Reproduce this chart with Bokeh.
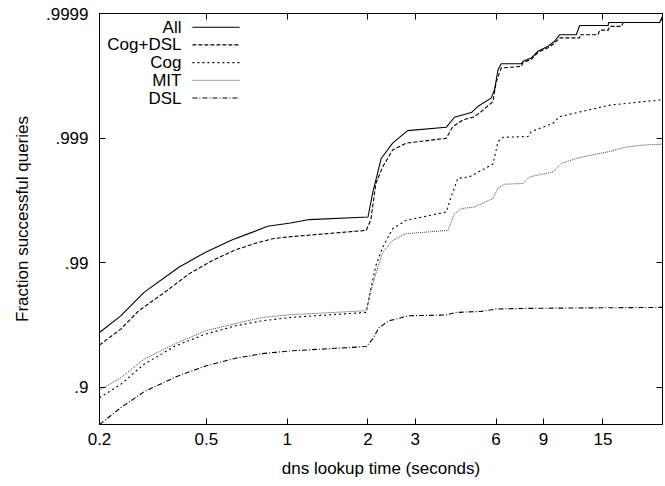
from bokeh.plotting import figure
from bokeh.models import Range1d, FixedTicker, CustomJSTickFormatter, LogAxis, Label
from bokeh.embed import file_html
from bokeh.resources import INLINE

# ---- data: x = dns lookup time (s), y = fraction successful queries ----
all_x = [0.2, 0.240, 0.293, 0.395, 0.497, 0.625, 0.743, 0.845, 1.03, 1.21,
         2.0, 2.08, 2.24, 2.47, 2.81, 3.91, 4.20, 4.85, 5.13, 5.36,
         5.75, 5.92, 6.10, 6.27, 7.45, 7.56, 8.11, 8.59, 9.37, 9.91,
         10.35, 11.94, 12.12, 12.29, 15.69, 15.75, 24.4, 25.0]
all_y = [0.9635, 0.9732, 0.98264, 0.98909, 0.99174, 0.99344, 0.99430, 0.99488, 0.99518, 0.99548,
         0.99569, 0.99721, 0.99854, 0.99890, 0.999127, 0.999180, 0.999319, 0.999375, 0.999441, 0.999475,
         0.999522, 0.999590, 0.999717, 0.999747, 0.999747, 0.999758, 0.999772, 0.999799, 0.999817, 0.999833,
         0.999852, 0.999852, 0.999865, 0.999875, 0.999875, 0.999882, 0.999882, 0.999894]

cogdsl_x = [0.2, 0.240, 0.280, 0.343, 0.431, 0.527, 0.643, 0.764, 0.882, 1.03,
            1.97, 2.05, 2.14, 2.27, 2.47, 2.77, 3.91, 4.14, 4.51, 4.92,
            5.20, 5.84, 6.01, 6.27, 7.45, 7.56, 8.11, 8.59, 9.37, 9.91,
            10.35, 12.29, 12.29, 14.39, 14.59, 15.69, 15.91, 17.58, 17.84, 24.4, 25.0]
cogdsl_y = [0.9539, 0.96575, 0.97561, 0.98212, 0.98766, 0.990364, 0.99210, 0.99301, 0.99356, 0.99380,
            0.99448, 0.99548, 0.99768, 0.99830, 0.99875, 0.99890, 0.998994, 0.999189, 0.999284, 0.999319,
            0.999368, 0.999490, 0.999648, 0.999726, 0.999734, 0.999752, 0.999767, 0.999794, 0.999812, 0.999827,
            0.999843, 0.999843, 0.999852, 0.999852, 0.999864, 0.999864, 0.999873, 0.999873, 0.999882, 0.999882,
            0.999894]

cog_x = [0.2, 0.240, 0.293, 0.384, 0.497, 0.643, 0.809, 1.03, 1.97, 2.05,
         2.14, 2.27, 2.47, 2.77, 3.91, 4.08, 4.32, 4.78, 5.84, 6.10,
         6.36, 7.89, 8.11, 9.78, 10.35, 12.47, 15.69, 21.2, 25.0]
cog_y = [0.8780, 0.90489, 0.93440, 0.95330, 0.96242, 0.96778, 0.97065, 0.97239, 0.97483, 0.98370,
         0.98943, 0.99248, 0.99465, 0.99541, 0.99607, 0.99703, 0.99789, 0.99795, 0.99838, 0.998929,
         0.999013, 0.999028, 0.999110, 0.999239, 0.999327, 0.999386, 0.999453, 0.999490, 0.999506]

mit_x = [0.2, 0.240, 0.293, 0.384, 0.497, 0.643, 0.809, 1.03, 1.97, 2.05,
         2.14, 2.27, 2.47, 2.77, 3.97, 4.20, 4.45, 4.99, 5.84, 6.10,
         6.45, 7.56, 8.00, 9.78, 10.50, 11.94, 13.59, 15.69, 18.35, 21.2, 25.0]
mit_y = [0.8937, 0.91586, 0.94023, 0.95525, 0.96465, 0.96913, 0.97239, 0.97374, 0.97561, 0.98318,
         0.98773, 0.99174, 0.99335, 0.99413, 0.99448, 0.99595, 0.99631, 0.99642, 0.99694, 0.99747,
         0.99765, 0.99768, 0.99795, 0.99813, 0.99840, 0.99854, 0.99863, 0.99871, 0.99882, 0.99886,
         0.99888]

dsl_x = [0.2, 0.240, 0.293, 0.384, 0.497, 0.643, 0.809, 1.03, 1.97, 2.08,
         2.20, 2.40, 2.85, 3.91, 4.26, 5.28, 6.01, 7.89, 11.94, 25.0]
dsl_y = [0.8001, 0.85311, 0.89089, 0.91695, 0.93228, 0.94132, 0.94611, 0.94875, 0.95268, 0.95876,
         0.96676, 0.97065, 0.97324, 0.97359, 0.97483, 0.97530, 0.97638, 0.97664, 0.97682, 0.97707]

series_names = ["All", "Cog+DSL", "Cog", "MIT", "DSL"]

x_ticks = [0.2, 0.5, 1, 2, 3, 6, 9, 15]
x_tick_labels = ["0.2", "0.5", "1", "2", "3", "6", "9", "15"]
y_ticks = [0.9, 0.99, 0.999, 0.9999]
y_tick_labels = [".9", ".99", ".999", ".9999"]

X_MIN, X_MAX = 0.2, 25.0
Y_MIN, Y_MAX = 0.8, 0.9999

FONT = "Liberation Sans"
FS = "17px"

# y axis: log of failure fraction (1 - success), flipped
def fail(v):
    return [1.0 - t for t in v]

y_tick_pos = fail(y_ticks)

p = figure(frame_width=563, frame_height=411,
           x_axis_type="log", y_axis_type="log",
           x_range=Range1d(X_MIN, X_MAX),
           y_range=Range1d(1.0 - Y_MIN, 1.0 - Y_MAX),
           output_backend="svg", toolbar_location=None,
           min_border_left=99, min_border_top=13, min_border_right=3, min_border_bottom=58)

p.grid.visible = False
p.outline_line_color = "black"
p.outline_line_width = 1
p.background_fill_color = "white"
p.border_fill_color = "white"

fmt_code = """
const i = tvals.findIndex(t => Math.abs(Math.log(t) - Math.log(tick)) < 1e-6);
return i >= 0 ? tlabels[i] : "";
"""

xa = p.xaxis[0]
xa.ticker = FixedTicker(ticks=x_ticks)
xa.formatter = CustomJSTickFormatter(args=dict(tvals=x_ticks, tlabels=x_tick_labels), code=fmt_code)
xa.axis_label = "dns lookup time (seconds)"

ya = p.yaxis[0]
ya.ticker = FixedTicker(ticks=y_tick_pos)
ya.formatter = CustomJSTickFormatter(args=dict(tvals=y_tick_pos, tlabels=y_tick_labels), code=fmt_code)
ya.axis_label = "Fraction successful queries"

for ax in (xa, ya):
    ax.major_tick_in = 6
    ax.major_tick_out = 0
    ax.minor_tick_line_color = None
    ax.major_label_text_font = FONT
    ax.major_label_text_font_size = FS
    ax.major_label_text_color = "black"
    ax.axis_label_text_font = FONT
    ax.axis_label_text_font_size = FS
    ax.axis_label_text_font_style = "normal"
    ax.axis_label_text_color = "black"
    ax.axis_line_color = "black"
    ax.major_tick_line_color = "black"

xa.major_label_standoff = 8
xa.axis_label_standoff = 11
ya.major_label_standoff = 11
ya.axis_label_standoff = 11

# mirrored axes (ticks only)
empty = CustomJSTickFormatter(code="return '';")
top = LogAxis(ticker=FixedTicker(ticks=x_ticks), formatter=empty)
right = LogAxis(ticker=FixedTicker(ticks=y_tick_pos), formatter=empty)
for ax in (top, right):
    ax.major_tick_in = 6
    ax.major_tick_out = 0
    ax.minor_tick_line_color = None
    ax.major_label_standoff = 0
    ax.major_label_text_font_size = "1px"
    ax.axis_line_color = "black"
p.add_layout(top, "above")
p.add_layout(right, "right")

styles = [
    dict(line_color="black", line_dash="solid", line_width=1.1),
    dict(line_color="black", line_dash="4 2", line_width=1.1),
    dict(line_color="black", line_dash="2 3", line_width=1.1),
    dict(line_color="#444444", line_dash="1 1", line_width=1.0),
    dict(line_color="black", line_dash="5 2 1 2", line_width=1.1),
]
data = [(all_x, all_y), (cogdsl_x, cogdsl_y), (cog_x, cog_y), (mit_x, mit_y), (dsl_x, dsl_y)]

for (xs, ys), st in zip(data, styles):
    p.line(xs, fail(ys), **st)

# legend (gnuplot style: right-aligned label, sample to its right)
def x_at(f):
    return X_MIN * (X_MAX / X_MIN) ** f

def y_at(f):  # f = fraction from bottom of frame
    lo, hi = 1.0 - Y_MIN, 1.0 - Y_MAX
    return lo * (hi / lo) ** f

tx = x_at(0.1456)
lx0, lx1 = x_at(0.165), x_at(0.249)
for i, (name, st) in enumerate(zip(series_names, styles)):
    fy = 0.9667 - i * 0.0431
    yy = y_at(fy)
    p.add_layout(Label(x=tx, y=yy, text=name, text_align="right", text_baseline="middle",
                       text_font=FONT, text_font_size=FS, text_color="black"))
    p.line([lx0, lx1], [yy, yy], **st)

open("out.html", "w").write(file_html(p, INLINE))
